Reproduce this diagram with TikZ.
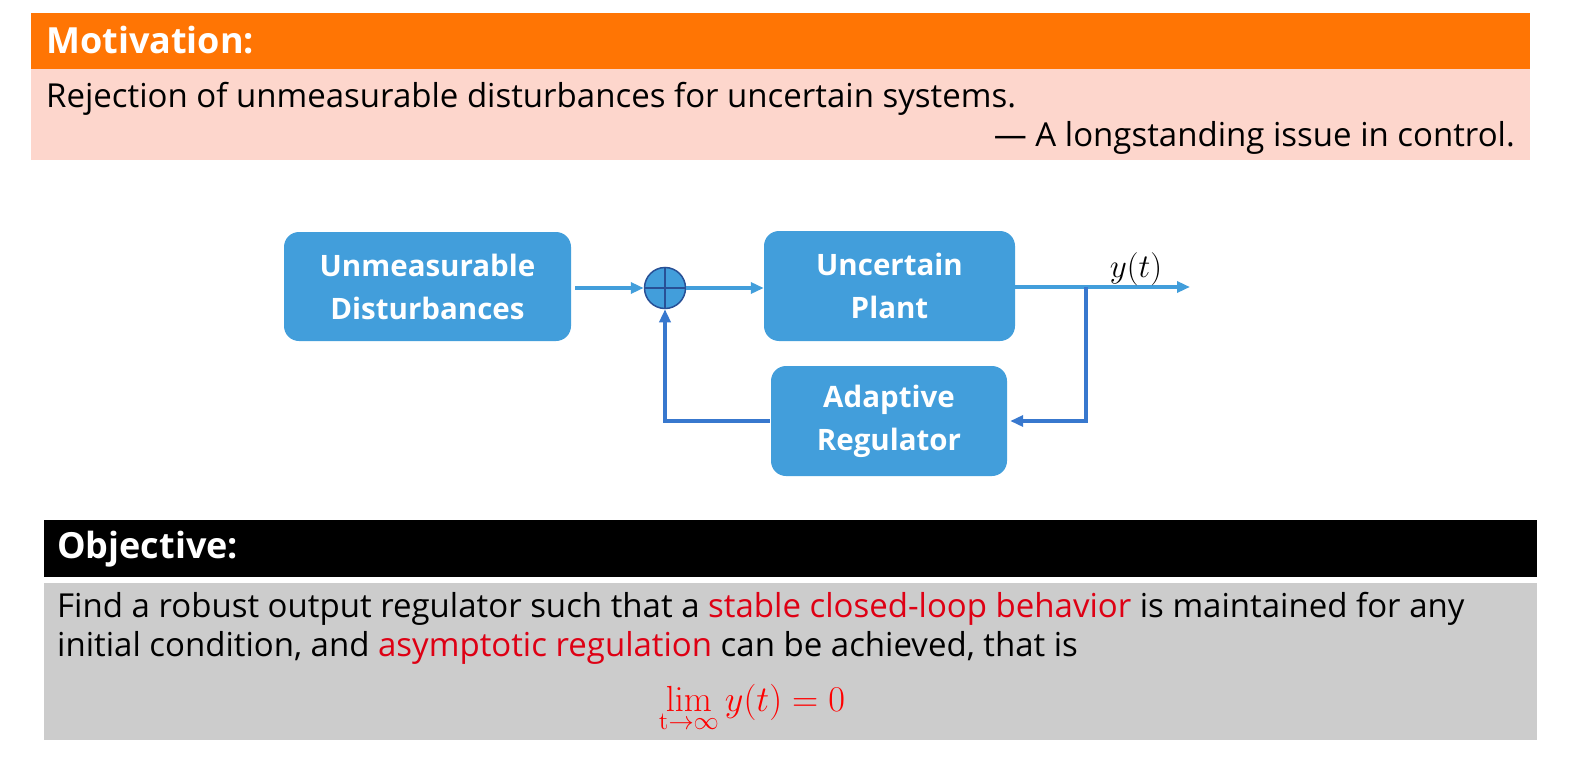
\documentclass[tikz,border=0pt]{standalone}
\usepackage{graphicx}
\usepackage[no-math]{fontspec}
\setmainfont{Open Sans}
\usetikzlibrary{arrows.meta}
\definecolor{hdrorange}{RGB}{255,117,4}
\definecolor{bodypink}{RGB}{253,214,204}
\definecolor{boxblue}{RGB}{66,158,219}
\definecolor{fbblue}{RGB}{56,120,206}
\definecolor{sumdark}{RGB}{40,80,150}
\definecolor{bodygray}{RGB}{204,204,204}
\definecolor{txtred}{RGB}{222,0,20}
\definecolor{formred}{RGB}{255,0,0}
\tikzset{
  blk/.style={rectangle, rounded corners=15pt, fill=boxblue, text=white, font=\fontsize{29.5}{43}\selectfont\bfseries, align=center, inner sep=0pt},
  fwd/.style={draw=boxblue, line width=3.5pt, -{Triangle[length=13pt,width=11pt]}},
  fb/.style={draw=fbblue, line width=3.5pt, -{Triangle[length=13pt,width=11pt]}},
  hdr/.style={anchor=base west, text=white, font=\fontsize{36}{40}\selectfont\bfseries, inner sep=0pt},
  bodytxt/.style={font=\fontsize{33}{38}\selectfont, inner sep=0pt, text=black}
}
\begin{document}
\begin{tikzpicture}[x=1pt,y=-1pt]
\useasboundingbox (0,0) rectangle (1572,760);
% Motivation panel
\fill[hdrorange] (31,13) rectangle (1530,69);
\fill[bodypink] (31,69) rectangle (1530,160);
\node[hdr] (mothdr) at (46,54) {Motivation:};
\node[bodytxt, anchor=base west] (mot1) at (46,107) {Rejection of unmeasurable disturbances for uncertain systems.};
\node[bodytxt, anchor=base east] (mot2) at (1515,146) {— A longstanding issue in control.};
% Diagram
\node[blk, minimum width=287pt, minimum height=109pt] (dist) at (427.5,286.5) {Unmeasurable\\Disturbances};
\node[blk, minimum width=251pt, minimum height=110pt] (plant) at (889.5,286) {Uncertain\\Plant};
\node[blk, minimum width=236pt, minimum height=110pt] (reg) at (889,421) {Adaptive\\Regulator};
\node[circle, draw=sumdark, fill=boxblue, line width=1.5pt, minimum size=41pt, inner sep=0pt] (sum) at (665,288) {};
\draw[sumdark, line width=1.8pt] (sum.west) -- (sum.east) (sum.north) -- (sum.south);
\coordinate (out) at (1190,287);
\coordinate (br) at (1086,287);
\draw[fwd] ([xshift=4pt]dist.east |- sum.west) -- (sum.west);
\draw[fwd] (sum.east) -- (plant.west |- sum.east);
\draw[fwd, shorten >=0pt] (plant.east |- out) -- (out);
\node[inner sep=0pt, anchor=base] (ylab) at (1136,277) {\scalebox{1.6}{\fontsize{20.74}{25}\selectfont$y(t)$}};
\draw[fb, line join=miter] (br) -- (br |- reg.east) -- ([xshift=3pt]reg.east);
\draw[fb, line join=miter] ([xshift=-1pt]reg.west) -- (sum.south |- reg.west) -- (sum.south);
% Objective panel
\fill[black] (44,520) rectangle (1537,577);
\fill[bodygray] (44,583) rectangle (1537,740);
\node[hdr] (objhdr) at (57,558) {Objective:};
\node[bodytxt, anchor=base west] (obj1) at (57,617) {Find a robust output regulator such that a \textcolor{txtred}{stable closed-loop behavior} is maintained for any};
\node[bodytxt, anchor=base west] (obj2) at (57,656) {initial condition, and \textcolor{txtred}{asymptotic regulation} can be achieved, that is};
\node[text=formred, inner sep=0pt, anchor=base] (formula) at (752,711) {\scalebox{1.75}{\fontsize{20.74}{25}\selectfont$\displaystyle\lim_{\mathrm{t}\to\infty} y(t) = 0$}};
\end{tikzpicture}
\end{document}
